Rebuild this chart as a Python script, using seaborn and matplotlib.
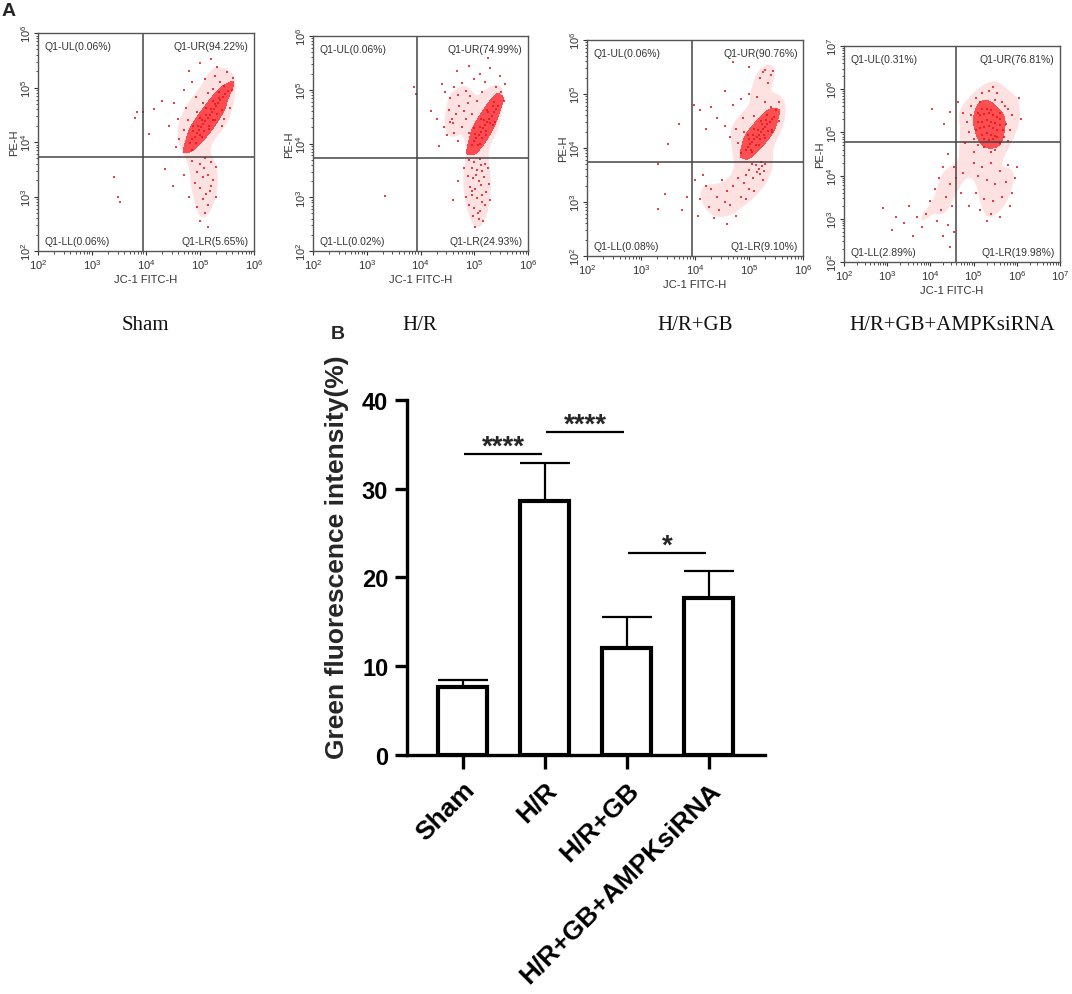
import numpy as np
import matplotlib
matplotlib.use("Agg")
import matplotlib.pyplot as plt
import seaborn as sns
from matplotlib.ticker import LogLocator, NullFormatter

sns.set_theme(style="white")
plt.rcParams["font.family"] = ["Liberation Sans", "DejaVu Sans"]
plt.rcParams["mathtext.default"] = "regular"

# ---------------- panel A: dot plots, values are log10 ----------------
groups = ["Sham", "H/R", "H/R+GB", "H/R+GB+AMPKsiRNA"]

sham_core = [(4.82, 3.98), (4.86, 4.05), (4.90, 4.10), (4.94, 4.16), (4.98, 4.22), (5.02, 4.27),
             (5.06, 4.33), (5.10, 4.39), (5.14, 4.44), (5.18, 4.50), (5.22, 4.55), (5.26, 4.61),
             (5.30, 4.66), (5.34, 4.72), (5.38, 4.77), (5.42, 4.82), (5.47, 4.88), (5.52, 4.93),
             (4.88, 4.20), (4.96, 4.30), (5.04, 4.40), (5.12, 4.50), (5.20, 4.60), (5.28, 4.70),
             (5.36, 4.80), (5.00, 4.12), (5.08, 4.20), (5.16, 4.30), (5.24, 4.40), (5.32, 4.52),
             (4.88, 4.30), (5.00, 4.45), (5.12, 4.62), (5.24, 4.76), (5.36, 4.92), (4.92, 3.98),
             (5.04, 4.10), (5.16, 4.24), (5.28, 4.40), (5.40, 4.58)]
sham_dots = [(5.00, 5.45), (5.20, 5.52), (5.32, 5.38), (5.50, 5.28), (5.62, 5.18), (4.85, 5.10),
             (5.10, 5.15), (4.70, 4.95), (4.52, 4.72), (4.30, 4.76), (4.15, 4.60), (3.95, 4.55),
             (4.60, 4.42), (4.75, 4.62), (4.70, 4.22), (4.62, 4.05), (5.45, 5.02), (5.60, 4.96),
             (5.55, 4.62), (5.45, 4.42), (4.42, 4.30), (4.80, 5.30), (5.28, 5.22), (4.92, 4.82),
             (5.05, 4.72), (5.25, 4.98), (5.40, 4.30), (4.05, 4.15), (4.55, 3.90), (4.85, 3.85),
             (4.78, 4.40), (5.15, 4.90), (5.38, 5.10), (4.95, 4.55),
             (4.85, 3.65), (5.00, 3.60), (5.10, 3.70), (5.20, 3.64), (5.30, 3.55), (4.95, 3.45),
             (5.05, 3.35), (5.15, 3.40), (5.25, 3.30), (4.90, 3.25), (5.00, 3.15), (5.12, 3.05),
             (5.20, 3.20), (5.05, 2.95), (5.15, 2.85), (4.95, 2.80), (5.10, 2.70), (5.00, 2.55),
             (5.15, 2.45), (4.70, 3.40), (4.50, 3.20), (4.35, 3.50), (5.30, 3.00), (4.80, 3.00),
             (5.08, 3.52), (5.18, 3.10),
             (3.48, 3.00), (3.52, 2.90), (3.83, 4.55), (3.80, 4.45), (3.40, 3.35)]

hr_core = [(4.96, 3.98), (5.00, 4.04), (5.04, 4.10), (5.08, 4.16), (5.12, 4.22), (5.16, 4.28),
           (5.20, 4.34), (5.24, 4.40), (5.28, 4.46), (5.32, 4.52), (5.36, 4.58), (5.40, 4.64),
           (5.45, 4.70), (5.02, 4.18), (5.10, 4.30), (5.18, 4.44), (5.26, 4.58), (5.34, 4.70),
           (5.06, 3.98), (5.14, 4.10), (5.22, 4.24), (5.30, 4.38),
           (5.00, 4.28), (5.12, 4.45), (5.24, 4.62), (5.36, 4.78), (5.10, 4.00), (5.22, 4.16),
           (5.34, 4.34)]
hr_dots = [(4.45, 4.95), (4.55, 4.85), (4.62, 5.05), (4.70, 4.90), (4.78, 5.12), (4.85, 4.98),
           (4.52, 4.62), (4.58, 4.45), (4.55, 4.40), (4.60, 4.38), (4.66, 4.55), (4.72, 4.70),
           (4.80, 4.60), (4.88, 4.75), (4.44, 4.30), (4.50, 4.15), (4.62, 4.20), (4.70, 4.05),
           (4.78, 4.30), (4.85, 4.45), (4.92, 4.88), (5.00, 5.20), (5.10, 5.30), (5.20, 5.15),
           (5.30, 5.40), (5.40, 5.05), (5.50, 4.95), (5.55, 4.80), (5.48, 5.25), (5.05, 4.80),
           (5.15, 4.95), (4.95, 4.55), (4.40, 5.10), (4.68, 5.35), (4.30, 4.45), (4.20, 4.60),
           (4.35, 3.95), (4.90, 4.20), (5.38, 4.40), (5.58, 5.10), (4.90, 5.45), (5.25, 5.60),
           (3.88, 5.05), (3.92, 4.92),
           (4.90, 3.70), (5.00, 3.65), (5.10, 3.72), (5.20, 3.62), (4.95, 3.55), (5.05, 3.50),
           (5.15, 3.48), (5.25, 3.55), (4.88, 3.40), (4.98, 3.35), (5.08, 3.30), (5.18, 3.38),
           (4.92, 3.20), (5.02, 3.15), (5.12, 3.22), (5.22, 3.10), (4.95, 3.05), (5.05, 2.98),
           (5.15, 2.92), (4.90, 2.85), (5.00, 2.80), (5.10, 2.75), (5.20, 2.85), (4.98, 2.65),
           (5.08, 2.60), (5.16, 2.55), (5.02, 2.45), (4.85, 3.00), (5.28, 3.25), (4.80, 3.55),
           (4.70, 3.30), (4.60, 2.95), (5.30, 2.95), (5.12, 3.60), (5.04, 3.42), (4.96, 3.12),
           (5.14, 3.05), (5.06, 2.70), (3.34, 3.02)]

gb_core = [(4.94, 3.97), (4.98, 4.02), (5.02, 4.07), (5.06, 4.11), (5.10, 4.16), (5.14, 4.20),
           (5.18, 4.25), (5.22, 4.30), (5.26, 4.35), (5.30, 4.39), (5.34, 4.44), (5.38, 4.49),
           (5.42, 4.53), (5.47, 4.58), (5.00, 4.16), (5.08, 4.24), (5.16, 4.34), (5.24, 4.44),
           (5.32, 4.52), (5.04, 3.96), (5.12, 4.06), (5.20, 4.16), (5.28, 4.24), (5.36, 4.32),
           (4.98, 4.24), (5.10, 4.36), (5.22, 4.50), (5.34, 4.62), (5.06, 3.92), (5.18, 4.06),
           (5.30, 4.18), (5.42, 4.34)]
gb_dots = [(4.55, 5.05), (4.70, 4.80), (4.85, 4.90), (5.00, 5.00), (5.15, 4.95), (5.30, 4.85),
           (5.40, 4.75), (5.50, 4.70), (5.55, 4.85), (5.35, 5.20), (5.40, 5.35), (5.30, 5.45),
           (5.25, 5.40), (5.45, 5.42), (5.20, 5.30), (4.30, 4.75), (4.10, 4.70), (4.40, 4.55),
           (4.55, 4.40), (4.65, 4.20), (4.75, 4.35), (4.80, 4.10), (4.88, 4.55), (4.20, 4.35),
           (3.70, 4.45), (3.98, 4.80), (5.00, 5.50), (4.70, 5.60), (4.90, 4.30), (5.10, 4.60),
           (5.42, 4.30), (5.55, 4.50), (4.85, 3.90),
           (5.12, 3.68), (5.18, 3.62), (5.24, 3.66), (5.28, 3.58), (5.20, 3.52), (5.14, 3.55),
           (5.30, 3.70), (5.22, 3.74), (5.05, 3.70), (5.00, 3.60), (4.95, 3.50), (5.08, 3.45),
           (4.90, 3.35), (4.80, 3.45), (4.70, 3.30), (4.60, 3.20), (4.50, 3.40), (4.40, 3.10),
           (4.30, 3.25), (4.20, 3.30), (4.10, 3.05), (4.25, 2.90), (4.45, 2.85), (4.65, 2.95),
           (4.85, 3.10), (5.00, 3.25), (5.10, 3.20), (4.55, 3.00), (4.35, 2.70), (4.75, 2.75),
           (4.15, 3.50), (4.05, 2.75), (5.26, 3.40), (4.95, 3.05), (4.60, 2.60), (4.00, 3.40),
           (3.50, 4.07), (3.31, 3.70), (3.44, 3.15), (3.31, 2.87), (3.76, 2.85), (3.85, 3.10)]

ampk_core = [(5.15, 5.40), (5.25, 5.42), (5.35, 5.45), (5.45, 5.40), (5.55, 5.35),
             (5.20, 5.25), (5.30, 5.28), (5.40, 5.25), (5.50, 5.22), (5.60, 5.18),
             (5.15, 5.10), (5.25, 5.12), (5.35, 5.15), (5.45, 5.10), (5.55, 5.05),
             (5.20, 4.95), (5.30, 4.98), (5.40, 4.95), (5.50, 4.92),
             (5.25, 4.85), (5.35, 4.82), (5.45, 4.85), (5.30, 5.55), (5.40, 5.52),
             (5.10, 5.25), (5.62, 5.30), (5.20, 5.55), (5.55, 4.90)]
ampk_dots = [(4.95, 5.60), (5.05, 5.80), (5.20, 5.90), (5.35, 5.95), (5.50, 5.75), (5.65, 5.70),
             (5.80, 5.55), (5.90, 5.40), (5.75, 5.20), (5.85, 5.05), (5.70, 4.90), (5.60, 4.75),
             (5.50, 4.60), (5.40, 4.55), (5.25, 4.65), (5.10, 4.70), (5.00, 4.85), (4.90, 5.00),
             (4.85, 5.25), (4.95, 5.40), (5.05, 5.05), (5.10, 5.45), (5.60, 5.45), (5.68, 5.05),
             (5.55, 5.90), (4.75, 5.45), (4.80, 4.75), (6.10, 5.30), (6.05, 5.80), (4.65, 5.70),
             (5.00, 4.55), (5.80, 4.80), (5.45, 6.05), (5.15, 5.70), (5.72, 5.60),
             (5.00, 4.30), (5.20, 4.20), (5.40, 4.30), (5.60, 4.10), (5.80, 4.25), (5.10, 4.00),
             (5.30, 3.90), (5.50, 3.80), (5.75, 3.85), (5.90, 3.60), (5.05, 3.60), (5.25, 3.45),
             (5.45, 3.40), (5.65, 3.50), (5.85, 3.30), (5.15, 3.20), (5.40, 3.10), (5.60, 3.05),
             (4.90, 3.30), (5.30, 2.95), (4.75, 4.05), (4.70, 3.60), (6.00, 4.20), (5.95, 3.95),
             (4.40, 4.50), (4.30, 4.20), (4.20, 3.95), (4.10, 3.70), (4.35, 3.50), (4.45, 3.80),
             (4.50, 3.30), (4.25, 3.20), (4.00, 3.40), (3.90, 3.10), (4.15, 2.95), (4.40, 2.85),
             (4.30, 2.60), (4.55, 2.70), (4.45, 2.35), (3.70, 3.05), (3.50, 3.30), (3.40, 2.90),
             (3.20, 3.05), (2.90, 3.25), (3.10, 2.75), (3.60, 2.60), (3.80, 2.80), (4.55, 4.20),
             (4.60, 3.95), (4.03, 5.54), (4.31, 5.20), (4.46, 5.47)]

gates = [(3.94, 3.72), (3.93, 3.73), (3.94, 3.74), (4.59, 4.78)]  # log10 of gate lines
axis_top = [6, 6, 6, 7]
quadrant_pct = [["0.06%", "94.22%", "0.06%", "5.65%"],   # UL, UR, LL, LR
                ["0.06%", "74.99%", "0.02%", "24.93%"],
                ["0.06%", "90.76%", "0.08%", "9.10%"],
                ["0.31%", "76.81%", "2.89%", "19.98%"]]

# ---------------- panel B: bar chart ----------------
means = [7.7, 28.6, 12.1, 17.7]
sem = [0.8, 4.3, 3.5, 3.0]
sig_pairs = [(0, 1), (1, 2), (2, 3)]
sig_heights = [33.9, 36.4, 22.8]
sig_marks = ["****", "****", "*"]

RED = "#e8121c"
fig = plt.figure(figsize=(10.72, 9.95), dpi=100)

rects = [[0.0354, 0.7467, 0.2015, 0.2191],
         [0.2920, 0.7467, 0.2006, 0.2161],
         [0.5476, 0.7417, 0.2015, 0.2171],
         [0.7873, 0.7357, 0.2015, 0.2171]]
panels = [(sham_core, sham_dots), (hr_core, hr_dots), (gb_core, gb_dots), (ampk_core, ampk_dots)]

for i, (core, dots) in enumerate(panels):
    ax = fig.add_axes(rects[i])
    ax.set_xscale("log")
    ax.set_yscale("log")
    core = np.array(core)
    dots = np.array(dots)
    allp = np.vstack([core, dots])
    # faint pink wash where events pile up, then the solid dense core, then single events
    sns.kdeplot(x=10 ** allp[:, 0], y=10 ** allp[:, 1], fill=True, log_scale=True,
                levels=2, thresh=0.35, bw_adjust=0.7, color=RED, alpha=0.16,
                antialiased=True, ax=ax)
    sns.kdeplot(x=10 ** core[:, 0], y=10 ** core[:, 1], fill=True, log_scale=True,
                levels=2, thresh=0.1, bw_adjust=1.2, color=RED, alpha=0.95, ax=ax)
    sns.scatterplot(x=10 ** allp[:, 0], y=10 ** allp[:, 1], s=3, marker="s", color=RED,
                    linewidth=0, alpha=0.8, ax=ax)
    top = 10.0 ** axis_top[i]
    ax.set_xlim(1e2, top)
    ax.set_ylim(1e2, top)
    ax.axvline(10 ** gates[i][0], color="#444444", lw=1.1)
    ax.axhline(10 ** gates[i][1], color="#444444", lw=1.1)

    ax.xaxis.set_major_locator(LogLocator(base=10, numticks=10))
    ax.yaxis.set_major_locator(LogLocator(base=10, numticks=10))
    ax.xaxis.set_minor_locator(LogLocator(base=10, subs=np.arange(2, 10), numticks=50))
    ax.yaxis.set_minor_locator(LogLocator(base=10, subs=np.arange(2, 10), numticks=50))
    ax.xaxis.set_minor_formatter(NullFormatter())
    ax.yaxis.set_minor_formatter(NullFormatter())
    ax.tick_params(which="major", direction="out", length=3, width=0.8, labelsize=8,
                   colors="#333333", pad=1.5, bottom=True, left=True)
    ax.tick_params(which="minor", direction="out", length=1.8, width=0.6,
                   colors="#333333", bottom=True, left=True)
    ax.tick_params(axis="y", labelrotation=90, pad=0.5)
    for lbl in ax.get_yticklabels():
        lbl.set_va("center")
    for sp in ax.spines.values():
        sp.set_color("#555555")
        sp.set_linewidth(1.0)
    ax.set_xlabel("JC-1 FITC-H", fontsize=8, color="#333333", labelpad=2)
    ax.set_ylabel("PE-H", fontsize=8, color="#333333", labelpad=0)

    ul, ur, ll, lr = quadrant_pct[i]
    qkw = dict(fontsize=7.5, color="#333333", transform=ax.transAxes)
    ax.text(0.03, 0.965, f"Q1-UL({ul})", ha="left", va="top", **qkw)
    ax.text(0.975, 0.965, f"Q1-UR({ur})", ha="right", va="top", **qkw)
    ax.text(0.03, 0.025, f"Q1-LL({ll})", ha="left", va="bottom", **qkw)
    ax.text(0.975, 0.025, f"Q1-LR({lr})", ha="right", va="bottom", **qkw)

label_x = [0.136, 0.392, 0.648, 0.888]
for gx, name in zip(label_x, groups):
    fig.text(gx, 0.673, name, ha="center", va="center", fontsize=15,
             family=["Liberation Serif", "DejaVu Serif"], color="#111111")

fig.text(0.0084, 0.988, "A", fontsize=14, weight="bold", ha="center", va="center")
fig.text(0.315, 0.664, "B", fontsize=14, weight="bold", ha="center", va="center")

# ---- bar chart ----
bx = fig.add_axes([0.3797, 0.2402, 0.334, 0.3568])
sns.barplot(x=groups, y=means, color="white", edgecolor="black", linewidth=3,
            width=0.6, saturation=1, errorbar=None, ax=bx)
bx.errorbar(np.arange(len(means)), means, yerr=[np.zeros(len(sem)), sem], fmt="none",
            ecolor="black", elinewidth=1.6, capsize=18, capthick=1.6, zorder=1)
bx.set_xlim(-0.68, 3.69)
bx.set_ylim(0, 40)
bx.set_yticks([0, 10, 20, 30, 40])
sns.despine(ax=bx)
for side in ["left", "bottom"]:
    bx.spines[side].set_linewidth(2.4)
    bx.spines[side].set_color("black")
bx.tick_params(axis="y", direction="out", length=8.5, width=2.4, pad=5, labelsize=17,
               left=True, colors="black")
bx.tick_params(axis="x", direction="out", length=10, width=2.4, pad=6, labelsize=19,
               bottom=True, colors="black")
for lbl in bx.get_yticklabels():
    lbl.set_fontweight("bold")
for lbl in bx.get_xticklabels():
    lbl.set_fontweight("bold")
    lbl.set_rotation(45)
    lbl.set_ha("right")
    lbl.set_rotation_mode("anchor")
bx.set_ylabel("Green fluorescence intensity(%)", fontsize=19, weight="bold")
bx.yaxis.set_label_coords(-0.162, 0.56)
bx.set_xlabel("")

for (i, j), h, mark in zip(sig_pairs, sig_heights, sig_marks):
    x0 = i + 0.02
    x1 = j - 0.03
    bx.plot([x0, x1], [h, h], color="black", lw=1.6, solid_capstyle="butt", clip_on=False)
    bx.text((x0 + x1) / 2, h + 0.05, mark, ha="center", va="baseline", fontsize=20,
            weight="bold", clip_on=False)

fig.savefig("out.png", dpi=100)
